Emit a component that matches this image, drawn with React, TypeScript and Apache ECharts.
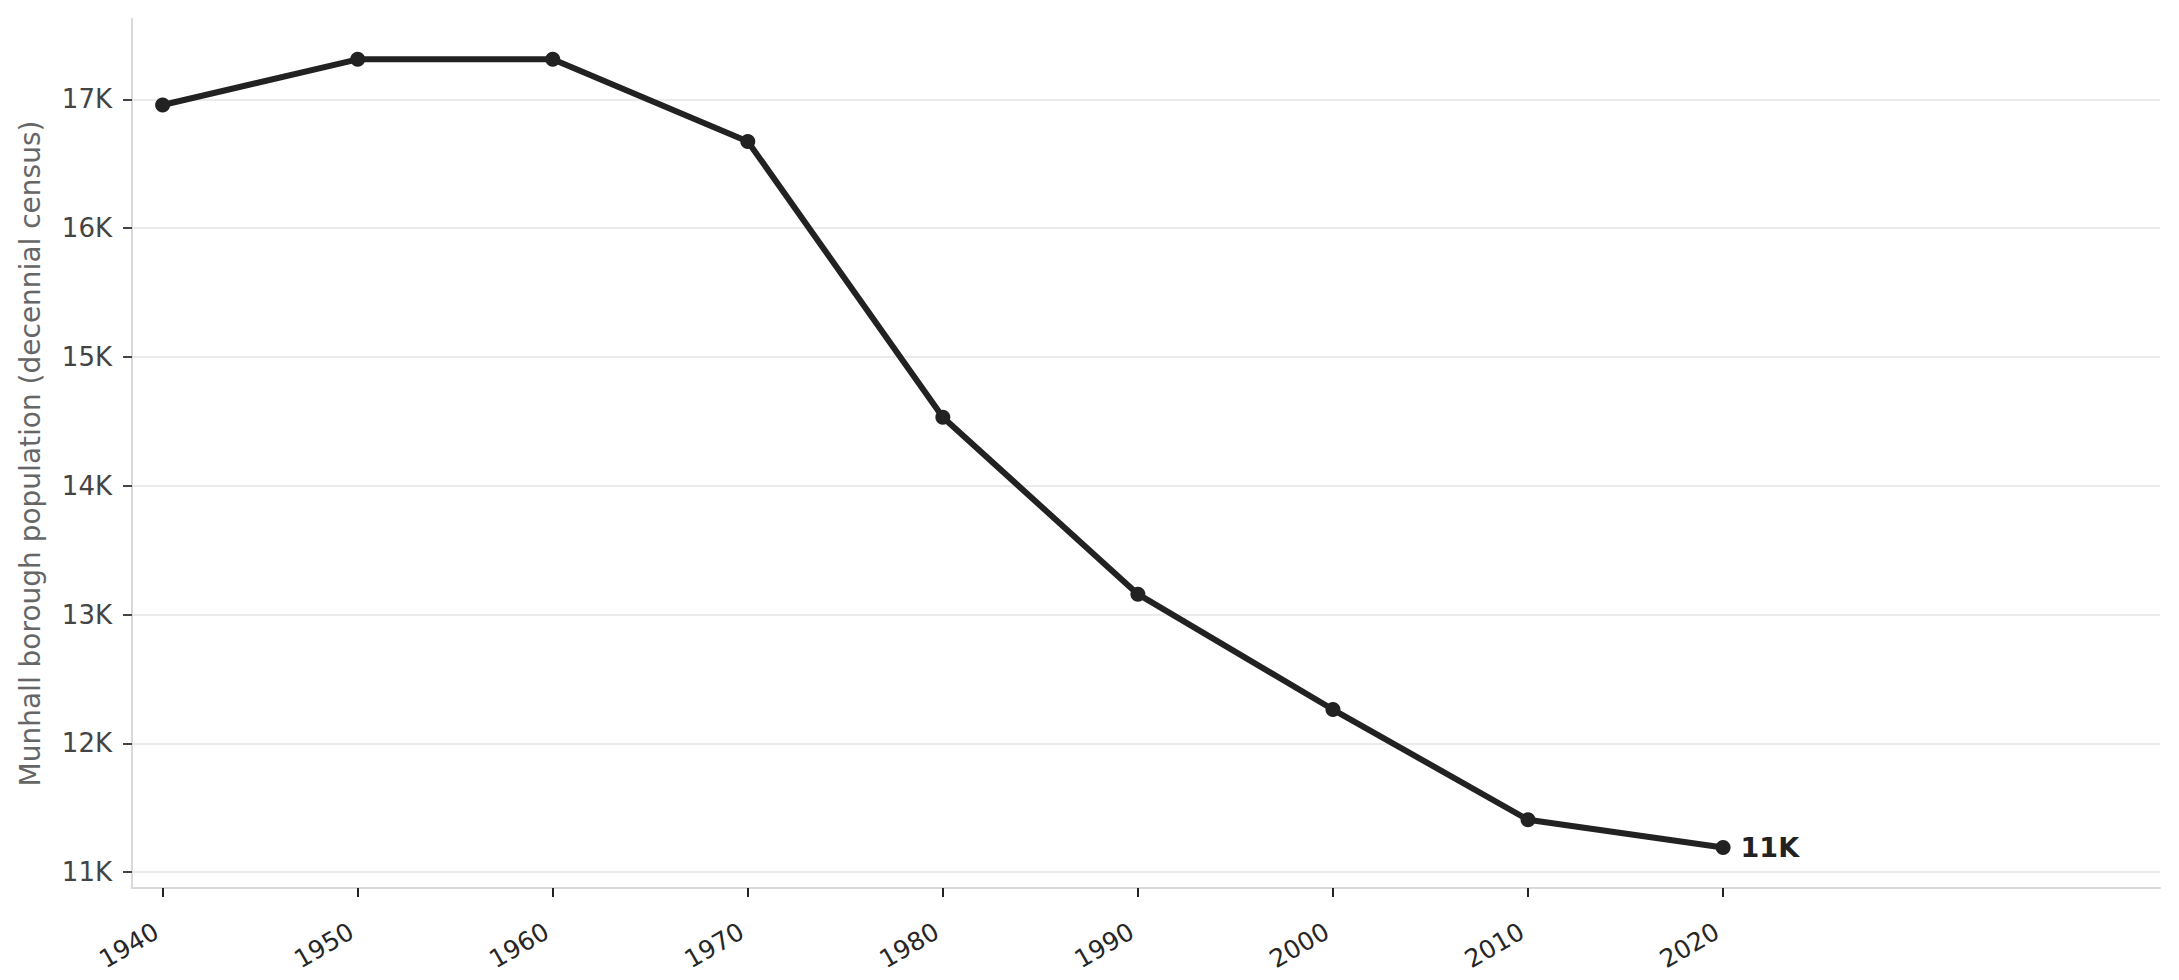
import { useEffect, useRef } from "react";
import * as echarts from "echarts";

const years = [1940, 1950, 1960, 1970, 1980, 1990, 2000, 2010, 2020];
const population = [16957, 17312, 17312, 16674, 14532, 13158, 12262, 11406, 11190];
const yTicks = [11000, 12000, 13000, 14000, 15000, 16000, 17000];
const yTitle = "Munhall borough population (decennial census)";

const FONT = "DejaVu Sans";

function fmtK(v: number): string {
  return `${Math.round(v / 1000)}K`;
}

export default function App(): JSX.Element {
  const rootRef = useRef<HTMLDivElement | null>(null);

  useEffect(() => {
    document.body.style.margin = "0";
    if (!rootRef.current) return undefined;
    const chart = echarts.init(rootRef.current, undefined, { renderer: "svg" });

    const last = years.length - 1;
    const seriesData = years.map((y, i) => {
      const item: any = { value: [y, population[i]] };
      if (i === last) {
        item.label = {
          show: true,
          position: "right",
          distance: 10,
          formatter: () => fmtK(population[i]),
          fontFamily: FONT,
          fontWeight: "bold",
          fontSize: 27,
          color: "#222222"
        };
      }
      return item;
    });

    const option: echarts.EChartsOption = {
      animation: false,
      backgroundColor: "#ffffff",
      textStyle: { fontFamily: FONT },
      grid: { left: 132, right: 19, top: 19, bottom: 92, containLabel: false },
      xAxis: {
        type: "value",
        min: 1938.43,
        max: 2042.4,
        axisLine: { show: true, lineStyle: { color: "#d9d9d9", width: 2 } },
        axisTick: {
          show: true,
          length: 9,
          customValues: years,
          lineStyle: { color: "#222222", width: 2 }
        },
        axisLabel: {
          customValues: years,
          rotate: 30,
          margin: 38,
          padding: [0, 7, 0, 0],
          fontSize: 25,
          fontFamily: FONT,
          color: "#262626",
          formatter: (v: number) => String(v)
        },
        splitLine: { show: false }
      },
      yAxis: {
        type: "value",
        min: 10876,
        max: 17625,
        name: yTitle,
        nameLocation: "middle",
        nameGap: 88,
        nameRotate: 90,
        nameTextStyle: { fontFamily: FONT, fontSize: 28, color: "#666666" },
        axisLine: { show: true, lineStyle: { color: "#d9d9d9", width: 2 } },
        axisTick: {
          show: true,
          length: 9,
          customValues: yTicks,
          lineStyle: { color: "#444444", width: 2 }
        },
        axisLabel: {
          customValues: yTicks,
          margin: 20,
          fontSize: 26,
          fontFamily: FONT,
          color: "#444444",
          formatter: (v: number) => fmtK(v)
        },
        splitLine: { show: true, lineStyle: { color: "#ebebeb", width: 2 } }
      },
      series: [
        {
          type: "line",
          data: seriesData,
          symbol: "circle",
          symbolSize: 15,
          lineStyle: { color: "#222222", width: 6 },
          itemStyle: { color: "#222222" },
          z: 5
        }
      ]
    };

    chart.setOption(option);
    return () => {
      chart.dispose();
    };
  }, []);

  return <div ref={rootRef} style={{ width: 2179, height: 980 }} />;
}
